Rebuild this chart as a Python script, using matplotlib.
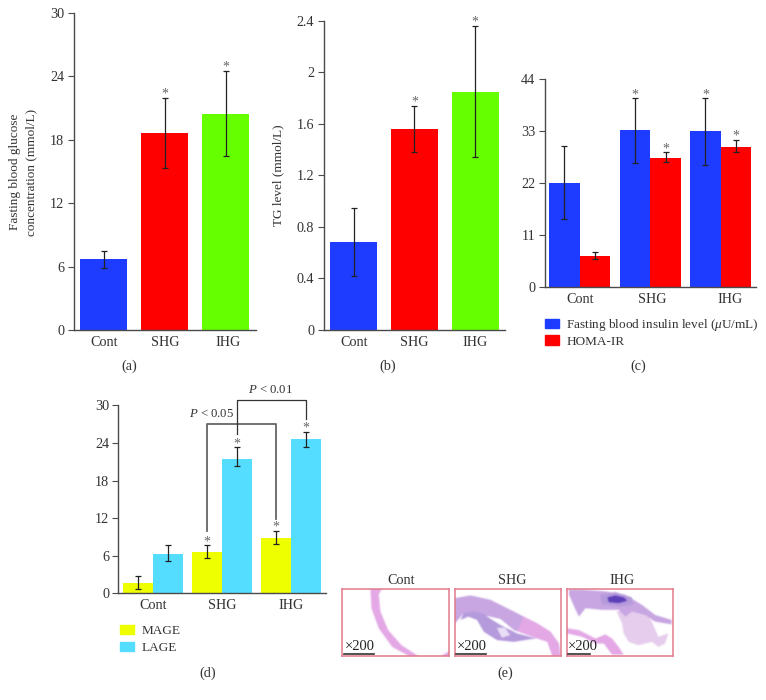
import matplotlib
matplotlib.use("Agg")
import numpy as np
import matplotlib.pyplot as plt
from matplotlib.figure import Figure
from matplotlib.backends.backend_agg import FigureCanvasAgg
from matplotlib.patches import Polygon, Patch

plt.rcParams['font.family'] = ['Liberation Serif', 'DejaVu Serif']
plt.rcParams['mathtext.fontset'] = 'custom'
plt.rcParams['mathtext.rm'] = 'Liberation Serif'
plt.rcParams['mathtext.it'] = 'Liberation Serif:italic'
plt.rcParams['mathtext.bf'] = 'Liberation Serif:bold'

W, H = 766, 700
BLUE, RED, GREEN, YELLOW, CYAN = '#1E3CFF', '#FF0000', '#66FF00', '#EEFF00', '#55DDFF'
TXT = '#333333'
AX = '#4a4a4a'
FS = 10.2

groups = ['Cont', 'SHG', 'IHG']

# (a)
glucose = [6.7, 18.65, 20.45]
glucose_low = [5.9, 15.3, 16.5]
glucose_high = [7.5, 22.0, 24.5]
# (b)
tg = [0.68, 1.56, 1.85]
tg_low = [0.42, 1.38, 1.34]
tg_high = [0.944, 1.74, 2.36]
# (c)
insulin = [22.0, 33.2, 33.0]
insulin_low = [14.4, 26.3, 25.9]
insulin_high = [29.8, 39.9, 39.9]
homa = [6.5, 27.2, 29.7]
homa_low = [5.9, 26.4, 28.6]
homa_high = [7.3, 28.5, 31.2]
# (d)
mage = [1.6, 6.6, 8.9]
mage_low = [0.64, 5.6, 7.8]
mage_high = [2.7, 7.66, 9.95]
lage = [6.33, 21.5, 24.6]
lage_low = [5.1, 20.3, 23.35]
lage_high = [7.77, 23.3, 25.8]

fig = plt.figure(figsize=(W / 100, H / 100), dpi=100)


def make_axes(x0, x1, ytop, ybot):
    ax = fig.add_axes([x0 / W, 1 - ybot / H, (x1 - x0) / W, (ybot - ytop) / H])
    ax.patch.set_alpha(0)
    for s in ('top', 'right'):
        ax.spines[s].set_visible(False)
    for s in ('left', 'bottom'):
        ax.spines[s].set_color(AX)
        ax.spines[s].set_linewidth(1.0)
    ax.set_xlim(-0.5, 2.5)
    ax.tick_params(axis='y', length=4.6, width=0.8, color=AX, labelsize=FS,
                   labelcolor=TXT, pad=2)
    ax.tick_params(axis='x', length=0, labelsize=FS, labelcolor=TXT, pad=4)
    return ax


def errs(ax, x, lo, hi):
    ax.errorbar(x, [(a + b) / 2 for a, b in zip(lo, hi)],
                yerr=[(b - a) / 2 for a, b in zip(lo, hi)], fmt='none',
                ecolor='#222222', elinewidth=0.9, capsize=2.4, capthick=0.9,
                zorder=4, clip_on=False)


def stars(ax, x, hi, skip=()):
    for i, (a, b) in enumerate(zip(x, hi)):
        if i in skip:
            continue
        ax.annotate('*', (a, b), xytext=(0, -2.0), textcoords='offset points',
                    ha='center', va='bottom', fontsize=10, color='#666666', zorder=5)


# Panel a
ax = make_axes(73.5, 256, 13, 330)
x = [0, 1, 2]
ax.bar(x, glucose, width=0.77, color=[BLUE, RED, GREEN], zorder=2)
errs(ax, x, glucose_low, glucose_high)
stars(ax, x, glucose_high, skip=(0,))
ax.set_ylim(0, 30)
ax.set_yticks([0, 6, 12, 18, 24, 30])
ax.set_xticks([0, 1, 2.04], groups)

# Panel b
ax = make_axes(323.5, 505.5, 20.7, 330)
ax.bar(x, tg, width=0.77, color=[BLUE, RED, GREEN], zorder=2)
errs(ax, x, tg_low, tg_high)
stars(ax, x, tg_high, skip=(0,))
ax.set_ylim(0, 2.4)
ax.set_yticks([0, 0.4, 0.8, 1.2, 1.6, 2.0, 2.4], ['0', '0.4', '0.8', '1.2', '1.6', '2', '2.4'])
ax.set_xticks(x, groups)

# Panel c
ax = make_axes(544.5, 756, 79, 287)
w = 0.435
left = [i - w / 2 for i in x]
right = [i + w / 2 for i in x]
ax.bar(left, insulin, width=w, color=BLUE, zorder=2)
ax.bar(right, homa, width=w, color=RED, zorder=2)
errs(ax, left, insulin_low, insulin_high)
errs(ax, right, homa_low, homa_high)
stars(ax, left, insulin_high, skip=(0,))
stars(ax, right, homa_high, skip=(0,))
ax.set_ylim(0, 44)
ax.set_yticks([0, 11, 22, 33, 44])
ax.set_xticks([0, 1.03, 2.13], groups)
fig.legend(handles=[Patch(color=BLUE), Patch(color=RED)],
           labels=['Fasting blood insulin level ($\\mu$U/mL)', 'HOMA-IR'],
           loc='upper left', bbox_to_anchor=(544.7 / W, 1 - 317 / H), frameon=False,
           borderpad=0, borderaxespad=0, handlelength=1.08, handleheight=0.72,
           handletextpad=0.56, labelspacing=0.17, fontsize=9.55, labelcolor=TXT)

# Panel d
ax = make_axes(118.3, 325.7, 405.3, 593.3)
w = 0.434
left = [i - w / 2 for i in x]
right = [i + w / 2 for i in x]
ax.bar(left, mage, width=w, color=YELLOW, zorder=2)
ax.bar(right, lage, width=w, color=CYAN, zorder=2)
errs(ax, left, mage_low, mage_high)
errs(ax, right, lage_low, lage_high)
stars(ax, left, mage_high, skip=(0,))
stars(ax, right, lage_high, skip=(0,))
ax.set_ylim(0, 30)
ax.set_yticks([0, 6, 12, 18, 24, 30])
ax.set_xticks(x, groups)
ax.plot([left[1], left[1], left[2], left[2]], [10, 27, 27, 11.8], color='#666666',
        lw=1.3, clip_on=False, zorder=3)
ax.plot([right[1], right[1], right[2], right[2]], [25.4, 30.85, 30.85, 27.8], color='#333333',
        lw=0.9, clip_on=False, zorder=3)
fig.legend(handles=[Patch(color=YELLOW), Patch(color=CYAN)], labels=['MAGE', 'LAGE'],
           loc='upper left', bbox_to_anchor=(120 / W, 1 - 624.5 / H), frameon=False,
           borderpad=0, borderaxespad=0, handlelength=1.08, handleheight=0.72,
           handletextpad=0.56, labelspacing=0.37, fontsize=9.5, labelcolor=TXT)


def ftext(px, py, s, **kw):
    kw.setdefault('fontsize', FS)
    kw.setdefault('color', TXT)
    fig.text(px / W, 1 - py / H, s, ha='center', va='center', **kw)


ftext(211.7, 414, '$P$ < 0.05', fontsize=9.2)
ftext(270.7, 390, '$P$ < 0.01', fontsize=9.2)

ftext(15, 172, 'Fasting blood glucose', rotation=90, fontsize=9.5)
ftext(31, 172, 'concentration (mmol/L)', rotation=90, fontsize=9.5)
ftext(278, 175, 'TG level (mmol/L)', rotation=90, fontsize=9.5)
ftext(129, 366, '(a)')
ftext(388, 366, '(b)')
ftext(638, 366, '(c)')
ftext(208, 673.5, '(d)')
ftext(505, 673.5, '(e)')
ftext(401, 580, 'Cont')
ftext(512, 580, 'SHG')
ftext(622, 580, 'IHG')

# Panel e: micrographs sketched as tissue outlines, softened like a small photograph
PINK, PALE, LILAC, PURPLE, DEEP = '#E4A8E6', '#E6CDEE', '#C8A6E2', '#B59ADC', '#5E40B8'
cont_shapes = [
    (PINK, [(85, 0), (88, 60), (110, 120), (150, 175), (200, 202), (228, 202),
            (178, 170), (138, 125), (115, 70), (110, 20), (120, 0)]),
    (PINK, [(296, 202), (320, 188), (320, 202)]),
]
shg_shapes = [
    (LILAC, [(0, 30), (46, 22), (106, 35), (176, 70), (246, 105), (286, 130), (311, 165),
             (316, 202), (291, 202), (276, 160), (246, 150), (186, 130), (136, 105), (96, 80),
             (56, 68), (26, 75), (0, 105)]),
    (PINK, [(206, 85), (246, 105), (286, 130), (311, 165), (316, 202), (291, 202), (276, 160),
            (246, 150), (186, 130)]),
    (PURPLE, [(16, 95), (26, 75), (56, 68), (96, 80), (136, 105), (186, 130), (246, 150),
              (226, 152), (176, 160), (126, 155), (86, 130), (66, 95), (40, 85)]),
    ('white', [(91, 82), (136, 92), (176, 125), (251, 152), (186, 135), (136, 110)]),
    ('#EADFF5', [(125, 118), (150, 118), (165, 140), (140, 148)]),
]
ihg_shapes = [
    (PALE, [(150, 70), (226, 55), (256, 100), (276, 145), (306, 135), (296, 165),
            (276, 175), (256, 160), (216, 170), (186, 160), (171, 135), (166, 105)]),
    (LILAC, [(6, 5), (46, 5), (116, 10), (176, 20), (226, 50), (266, 80), (316, 95),
             (316, 108), (266, 100), (236, 80), (196, 70), (176, 85), (156, 65), (106, 65),
             (56, 60), (36, 85), (26, 65), (6, 20)]),
    (PURPLE, [(100, 20), (146, 12), (196, 28), (200, 50), (156, 55), (106, 48)]),
    (DEEP, [(122, 28), (146, 22), (172, 28), (182, 38), (156, 45), (126, 42)]),
    (PINK, [(0, 120), (36, 125), (86, 150), (116, 138), (136, 150), (156, 175), (171, 198),
            (136, 198), (111, 165), (86, 165), (46, 145), (0, 135)]),
]


def micrograph(shapes):
    off = Figure(figsize=(3.2, 2.02), dpi=100, facecolor='white')
    canvas = FigureCanvasAgg(off)
    oa = off.add_axes([0, 0, 1, 1])
    oa.set_xlim(0, 320)
    oa.set_ylim(202, 0)
    oa.axis('off')
    for col, pts in shapes:
        oa.add_patch(Polygon(pts, closed=True, facecolor=col, edgecolor='none'))
    canvas.draw()
    img = np.asarray(canvas.buffer_rgba())[:, :, :3].astype(float)
    kernel = np.ones(5) / 5
    for _ in range(2):
        img = np.apply_along_axis(lambda r: np.convolve(np.pad(r, 2, mode='edge'), kernel, 'valid'), 0, img)
        img = np.apply_along_axis(lambda r: np.convolve(np.pad(r, 2, mode='edge'), kernel, 'valid'), 1, img)
    return img / 255


panels = [
    (342, 448.7, cont_shapes, (6, 95), 8),
    (454.7, 560.7, shg_shapes, (4, 93), 6),
    (566.7, 672.7, ihg_shapes, (4, 71), 4),
]
for x0, x1, shapes, bar, lab in panels:
    a = fig.add_axes([x0 / W, 1 - 656 / H, (x1 - x0) / W, (656 - 588.7) / H])
    a.imshow(micrograph(shapes), extent=(0, 320, 202, 0), aspect='auto', zorder=1)
    a.set_xlim(0, 320)
    a.set_ylim(202, 0)
    a.set_xticks([])
    a.set_yticks([])
    for s in a.spines.values():
        s.set_color('#E27A8C')
        s.set_linewidth(1.1)
    a.plot(bar, [195, 195], color='#333333', lw=1.2, zorder=3)
    a.text(lab, 173, '×200', fontsize=10.5, color='#222222', ha='left', va='center', zorder=3)

fig.savefig('out.png', dpi=100)
